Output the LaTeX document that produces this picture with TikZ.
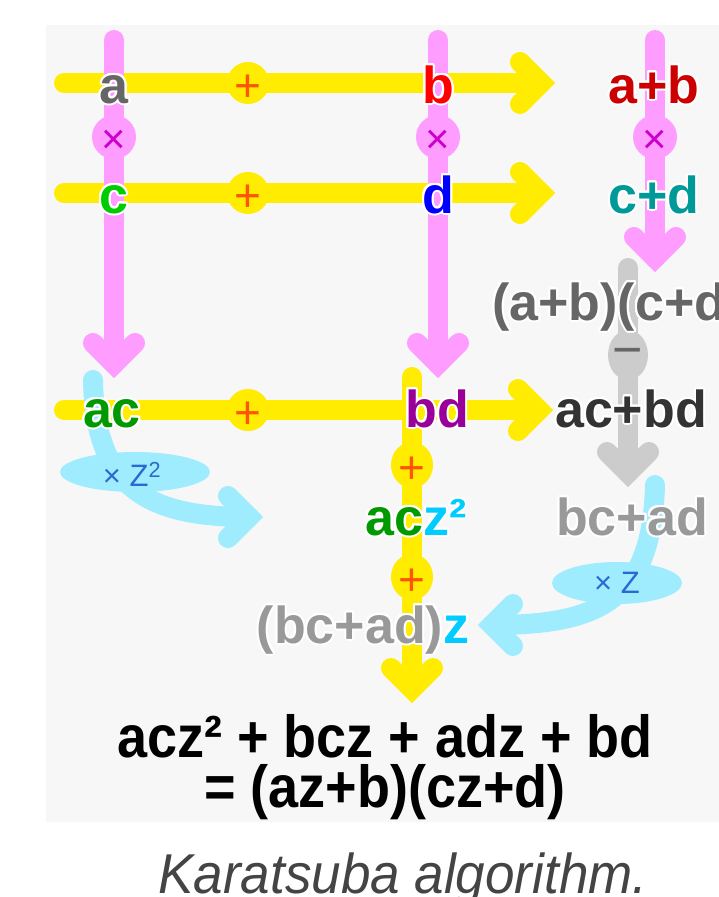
\documentclass[tikz,border=0pt]{standalone}
\usepackage{fontspec}
\setmainfont{Liberation Sans}
\usepackage{graphicx}
\usepackage{contour}
\contourlength{2pt}
\contournumber{24}

\definecolor{panel}{HTML}{F7F7F7}
\definecolor{ylw}{HTML}{FFEC00}
\definecolor{pnk}{HTML}{FF9CFF}
\definecolor{cyn}{HTML}{A0ECFF}
\definecolor{gry}{HTML}{CCCCCC}
\definecolor{plusc}{HTML}{FF5500}
\definecolor{timesc}{HTML}{CC00CC}
\definecolor{minusc}{HTML}{666666}
\definecolor{ca}{HTML}{666666}
\definecolor{cb}{HTML}{FF0000}
\definecolor{cc}{HTML}{00CC00}
\definecolor{cd}{HTML}{0000FF}
\definecolor{cab}{HTML}{CC0000}
\definecolor{ccd}{HTML}{009999}
\definecolor{cprod}{HTML}{666666}
\definecolor{cac}{HTML}{009900}
\definecolor{cbd}{HTML}{990099}
\definecolor{cacbd}{HTML}{333333}
\definecolor{cbcad}{HTML}{999999}
\definecolor{cz}{HTML}{00CCFF}
\definecolor{cmul}{HTML}{2A6AD0}
\definecolor{capc}{HTML}{444444}

% white outline round the coloured labels
\newcommand\halo[1]{\contour{white}{#1}}

\tikzset{
  band/.style={line width=20pt, line cap=round},
  pics/head/.style={code={
    \draw[line width=20pt, line cap=round, line join=miter, draw=#1]
      (-35,-21) -- (-14,0) -- (-35,21);}},
  lbl/.style={font=\fontsize{52}{52}\selectfont\bfseries, inner sep=0pt, anchor=base},
  op/.style={font=\fontsize{46}{46}\selectfont, inner sep=0pt},
  mul/.style={font=\fontsize{31}{31}\selectfont, inner sep=0pt, text=cmul},
}

\begin{document}
\begin{tikzpicture}[x=1pt, y=-1pt]
\useasboundingbox (0,0) rectangle (719,897);
\fill[panel] (46,25) rectangle (719,822);

% coordinates of the bands
\coordinate (y1s) at (64,83);   \coordinate (y1e) at (541,83);  \coordinate (y1t) at (555,83);
\coordinate (y2s) at (64,193);  \coordinate (y2e) at (541,193); \coordinate (y2t) at (555,193);
\coordinate (y3s) at (64,410);  \coordinate (y3e) at (539,410); \coordinate (y3t) at (553,410);
\coordinate (yvs) at (412,377); \coordinate (yve) at (412,689); \coordinate (yvt) at (412,703);
\coordinate (p1s) at (114,40);  \coordinate (p1e) at (114,364); \coordinate (p1t) at (114,378);
\coordinate (p2s) at (438,40);  \coordinate (p2e) at (438,364); \coordinate (p2t) at (438,378);
\coordinate (p3s) at (655,40);  \coordinate (p3e) at (655,258); \coordinate (p3t) at (655,272);
\coordinate (gs) at (628,268);  \coordinate (ge) at (628,473);  \coordinate (gt) at (628,487);
\coordinate (cls) at (93,380);  \coordinate (cle) at (249,517); \coordinate (clt) at (263,517);
\coordinate (crs) at (655,485); \coordinate (cre) at (492,625); \coordinate (crt) at (478,625);

% yellow sums
\draw[band, ylw] (y1s) -- (y1e);
\draw[band, ylw] (y2s) -- (y2e);
\draw[band, ylw] (y3s) -- (y3e);
\draw[band, ylw, line cap=butt] (yvs) -- (yve);
\fill[ylw] (yvs) circle (10);
\pic at (y1t) {head=ylw};
\pic at (y2t) {head=ylw};
\pic at (y3t) {head=ylw};
\pic[rotate=-90] at (yvt) {head=ylw};
\fill[ylw] (248,83) circle (21);
\fill[ylw] (248,193) circle (21);
\fill[ylw] (248,410) circle (21);
\fill[ylw] (412,465) ellipse [x radius=21, y radius=23];
\fill[ylw] (412,577) ellipse [x radius=21, y radius=23];

% pink products
\draw[band, pnk] (p1s) -- (p1e);
\draw[band, pnk] (p2s) -- (p2e);
\draw[band, pnk] (p3s) -- (p3e);
\pic[rotate=-90] at (p1t) {head=pnk};
\pic[rotate=-90] at (p2t) {head=pnk};
\pic[rotate=-90] at (p3t) {head=pnk};
\fill[pnk] (114,137) circle (22);
\fill[pnk] (438,137) circle (22);
\fill[pnk] (655,137) circle (22);

% grey difference
\draw[band, gry] (gs) -- (ge);
\pic[rotate=-90] at (gt) {head=gry};
\fill[gry] (628,355) ellipse [x radius=20, y radius=25];

% cyan shifts
\draw[band, cyn] (cls) .. controls (95,490) and (150,517) .. (cle);
\pic at (clt) {head=cyn};
\fill[cyn] (135,472) ellipse [x radius=75, y radius=20];
\draw[band, cyn] (crs) .. controls (652,600) and (600,625) .. (cre);
\pic[rotate=180] at (crt) {head=cyn};
\fill[cyn] (617,583) ellipse [x radius=65, y radius=21];

% operators
\node[op, text=plusc] (o1) at (248,88) {+};
\node[op, text=plusc] (o2) at (248,198) {+};
\node[op, text=plusc] (o3) at (248,415) {+};
\node[op, text=plusc] (o4) at (412,470) {+};
\node[op, text=plusc] (o5) at (412,582) {+};
\node[op, text=timesc, font=\fontsize{42}{42}\selectfont] (m1) at (114,142) {×};
\node[op, text=timesc, font=\fontsize{42}{42}\selectfont] (m2) at (438,142) {×};
\node[op, text=timesc, font=\fontsize{42}{42}\selectfont] (m3) at (655,142) {×};
\node[op, text=minusc, font=\fontsize{52}{52}\selectfont] (mn) at (628,358) {−};
\node[mul] (sl) at (132,474) {× Z\textsuperscript{2}};
\node[mul] (sr) at (617,583) {× Z};

% values
\node[lbl, text=ca] (na) at (114,103) {\halo{a}};
\node[lbl, text=cb] (nb) at (438,103) {\halo{b}};
\node[lbl, text=cab] (nab) at (654,103) {\halo{a+b}};
\node[lbl, text=cc] (nc) at (114,213) {\halo{c}};
\node[lbl, text=cd] (nd) at (438,213) {\halo{d}};
\node[lbl, text=ccd] (ncd) at (654,213) {\halo{c+d}};
\node[lbl, text=cprod, anchor=base west] (nprod) at (492,320) {\halo{(a+b)(c+d)}};
\node[lbl, text=cac] (nac) at (112,427) {\halo{ac}};
\node[lbl, text=cbd] (nbd) at (437,427) {\halo{bd}};
\node[lbl, text=cacbd] (nacbd) at (631,427) {\halo{ac+bd}};
\node[lbl] (nacz) at (416,535) {\textcolor{cac}{\halo{ac}}\textcolor{cz}{\halo{z²}}};
\node[lbl, text=cbcad] (nbcad) at (632,535) {\halo{bc+ad}};
\node[lbl] (nbcadz) at (363,643) {\textcolor{cbcad}{\halo{(bc+ad)}}\textcolor{cz}{\halo{z}}};

% result
\node[lbl, font=\fontsize{54}{54}\selectfont\bfseries] (r1) at (385,757)
  {\scalebox{1}[1.1]{acz² + bcz + adz + bd}};
\node[lbl, font=\fontsize{54}{54}\selectfont\bfseries] (r2) at (385,807)
  {\scalebox{1}[1.1]{= (az+b)(cz+d)}};

% caption
\node[inner sep=0pt, anchor=base, text=capc, font=\fontsize{53}{53}\selectfont\itshape] (cap) at (403,893)
  {\scalebox{1}[1.06]{Karatsuba algorithm.}};
\end{tikzpicture}
\end{document}
